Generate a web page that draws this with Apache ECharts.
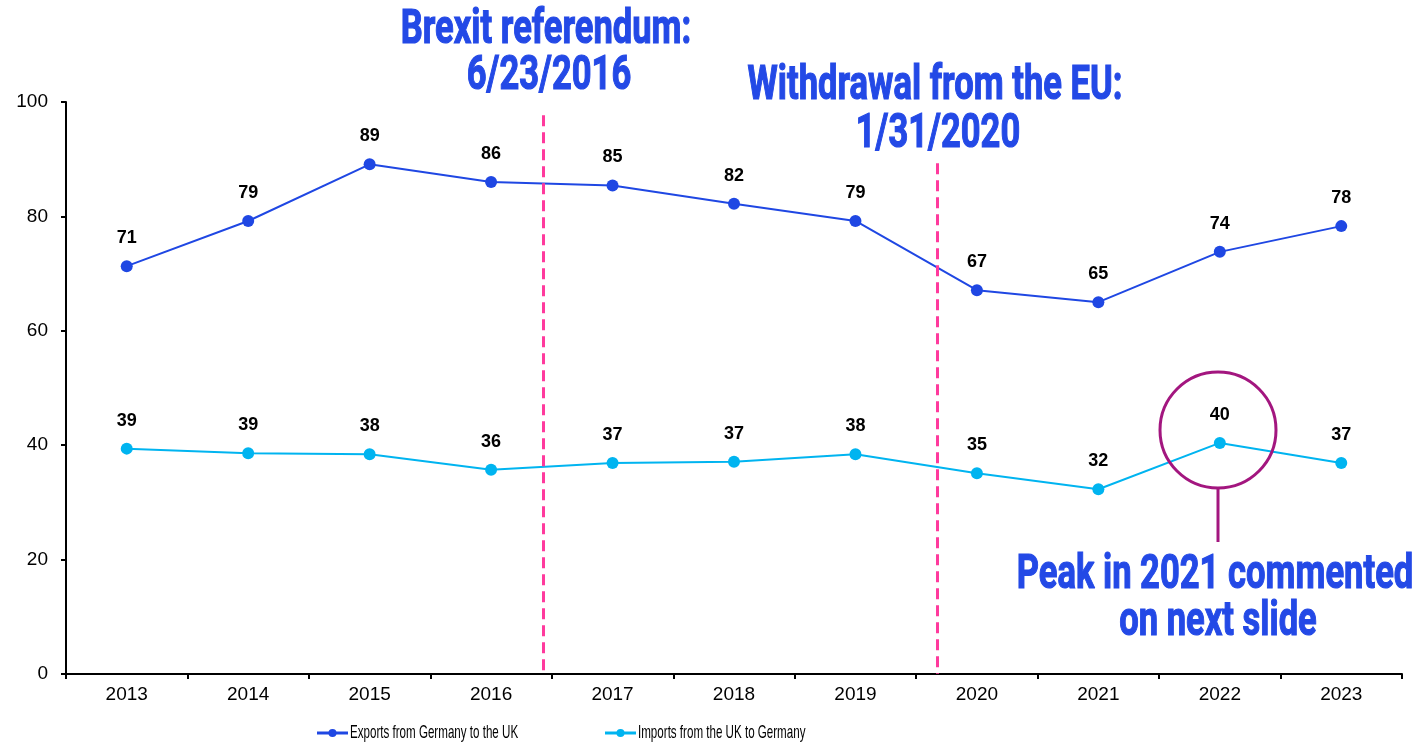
<!DOCTYPE html>
<html>
<head>
<meta charset="utf-8">
<title>Germany – UK trade</title>
<script src="https://cdn.jsdelivr.net/npm/echarts@6/dist/echarts.min.js"></script>
<style>
  html, body { margin: 0; padding: 0; background: #ffffff; }
  #chart { width: 1412px; height: 748px; }
</style>
</head>
<body>
<div id="chart"></div>
<script>
// Years on the category axis
const years = ['2013', '2014', '2015', '2016', '2017', '2018', '2019', '2020', '2021', '2022', '2023'];

// Trade values (EUR bn)
const exportsToUK = [71.3, 79.2, 89.1, 86.0, 85.4, 82.2, 79.2, 67.1, 65.0, 73.8, 78.3];
const importsFromUK = [39.4, 38.6, 38.4, 35.7, 36.9, 37.1, 38.4, 35.1, 32.3, 40.4, 36.9];

const seriesNames = ['Exports from Germany to the UK', 'Imports from the UK to Germany'];

// Event markers, positioned in category-index units, with their top in axis units
const eventPositions = [3.43, 6.67];
const eventTops = [97.7, 89.3];

// Y axis range
const yMin = 0, yMax = 100, yStep = 20;

const BLUE_TEXT = '#2349e6';
const EXPORT_COLOR = '#1f47e3';
const IMPORT_COLOR = '#00b4f0';
const PINK = '#ff3a9d';
const PURPLE = '#a3167f';
const seriesColors = [EXPORT_COLOR, IMPORT_COLOR];

const chart = echarts.init(document.getElementById('chart'));

const titleFont = 'bold 48px Roboto';
const sx = 0.72;

function headline(text, x, y) {
  return {
    type: 'text',
    x: x, y: y,
    scaleX: sx,
    z: 100,
    style: {
      text: text,
      font: titleFont,
      fill: BLUE_TEXT,
      stroke: BLUE_TEXT,
      lineWidth: 1.2,
      textAlign: 'center',
      textVerticalAlign: 'middle'
    }
  };
}

// Legend entries: a short line with a dot, followed by a narrow label
const legendLeft = [317, 605];
const legendY = 733;
function legendItem(i) {
  const x0 = legendLeft[i];
  return {
    type: 'group',
    children: [
      { type: 'line', shape: { x1: x0, y1: legendY, x2: x0 + 31, y2: legendY },
        style: { stroke: seriesColors[i], lineWidth: 3 } },
      { type: 'circle', shape: { cx: x0 + 15.5, cy: legendY, r: 4 },
        style: { fill: seriesColors[i] } },
      { type: 'text', x: x0 + 33, y: legendY, scaleX: 0.61,
        style: { text: seriesNames[i], font: '19px "Liberation Sans", Arial, sans-serif',
                 fill: '#000', textAlign: 'left', textVerticalAlign: 'middle' } }
    ]
  };
}

const labelStyle = {
  show: true, position: 'top', distance: 13,
  formatter: p => Math.round(p.value),
  color: '#000', fontWeight: 'bold', fontSize: 18, fontFamily: '"Liberation Sans", Arial'
};

const option = {
  animation: false,
  backgroundColor: '#ffffff',
  grid: { left: 66, right: 10, top: 102, bottom: 74, containLabel: false },
  xAxis: [
    {
      type: 'category',
      data: years,
      boundaryGap: true,
      axisLine: { onZero: false, lineStyle: { color: '#000', width: 2 } },
      axisTick: { show: true, length: 5, lineStyle: { color: '#000', width: 2 } },
      axisLabel: { color: '#000', fontFamily: '"Liberation Sans", Arial', fontSize: 19, margin: 11 },
      splitLine: { show: false }
    },
    {
      type: 'value',
      min: -0.5, max: 10.5,
      show: false
    }
  ],
  yAxis: {
    type: 'value',
    min: yMin, max: yMax, interval: yStep,
    axisLine: { show: true, onZero: false, lineStyle: { color: '#000', width: 2 } },
    axisTick: { show: true, length: 5, lineStyle: { color: '#000', width: 2 } },
    axisLabel: { color: '#000', fontFamily: '"Liberation Sans", Arial', fontSize: 19, margin: 18 },
    splitLine: { show: false }
  },
  series: [
    {
      name: seriesNames[0],
      type: 'line',
      data: exportsToUK,
      symbol: 'circle',
      symbolSize: 12,
      itemStyle: { color: EXPORT_COLOR },
      lineStyle: { color: EXPORT_COLOR, width: 2 },
      label: labelStyle,
      z: 3
    },
    {
      name: seriesNames[1],
      type: 'line',
      data: importsFromUK,
      symbol: 'circle',
      symbolSize: 12,
      itemStyle: { color: IMPORT_COLOR },
      lineStyle: { color: IMPORT_COLOR, width: 2 },
      label: labelStyle,
      z: 3
    },
    {
      name: 'events',
      type: 'line',
      xAxisIndex: 1,
      data: [],
      silent: true,
      markLine: {
        symbol: 'none',
        silent: true,
        label: { show: false },
        lineStyle: { color: PINK, width: 3, type: [11, 6] },
        data: eventPositions.map((pos, i) => [
          { coord: [pos, eventTops[i]] },
          { coord: [pos, yMin] }
        ])
      },
      z: 2
    }
  ],
  graphic: [
    headline('Brexit referendum:', 546, 31),
    headline('6/23/2016', 549, 77),
    headline('Withdrawal from the EU:', 935, 87),
    headline('1/31/2020', 938, 135),
    headline('Peak in 2021 commented', 1215, 576),
    headline('on next slide', 1218, 623),
    {
      type: 'circle',
      shape: { cx: 1218, cy: 430, r: 58 },
      style: { fill: 'none', stroke: PURPLE, lineWidth: 3 },
      z: 50
    },
    {
      type: 'line',
      shape: { x1: 1218, y1: 488, x2: 1218, y2: 542 },
      style: { stroke: PURPLE, lineWidth: 3 },
      z: 50
    },
    legendItem(0),
    legendItem(1)
  ]
};

chart.setOption(option);
</script>
</body>
</html>
